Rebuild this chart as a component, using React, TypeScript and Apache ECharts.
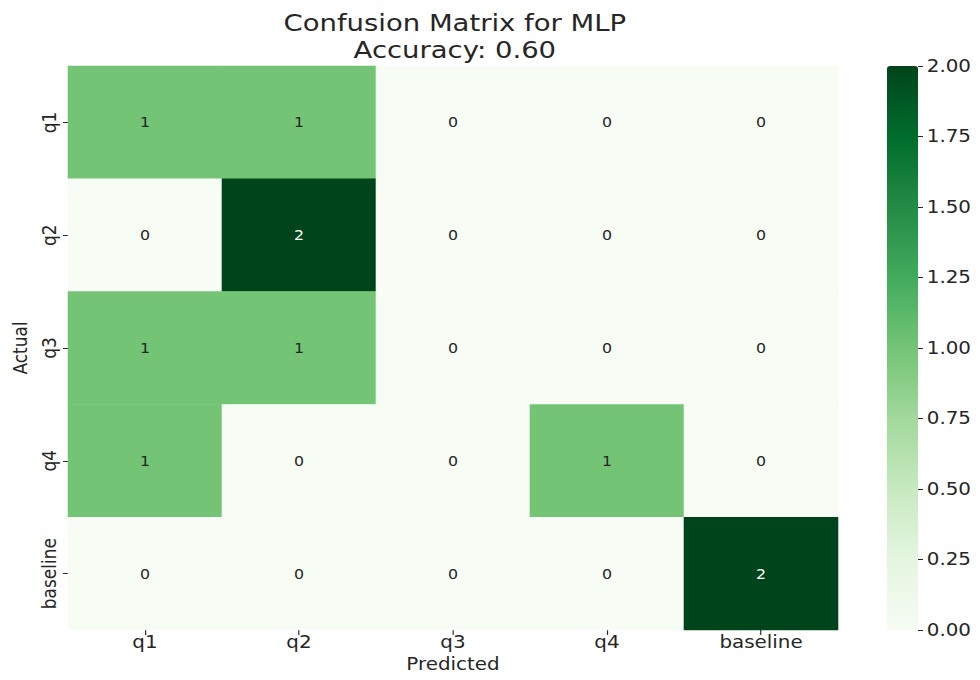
import React, { useEffect, useRef } from "react";
import * as echarts from "echarts";

const predictedLabels = ["q1", "q2", "q3", "q4", "baseline"];
const actualLabels = ["q1", "q2", "q3", "q4", "baseline"];

// rows = actual, columns = predicted
const rowQ1 = [1, 1, 0, 0, 0];
const rowQ2 = [0, 2, 0, 0, 0];
const rowQ3 = [1, 1, 0, 0, 0];
const rowQ4 = [1, 0, 0, 1, 0];
const rowBaseline = [0, 0, 0, 0, 2];
const matrixRows = [rowQ1, rowQ2, rowQ3, rowQ4, rowBaseline];

const colorbarTicks = [0, 0.25, 0.5, 0.75, 1.0, 1.25, 1.5, 1.75, 2.0];

const greens = [
  "#f7fcf5", "#e5f5e0", "#c7e9c0", "#a1d99b", "#74c476",
  "#41ab5d", "#238b45", "#006d2c", "#00441b",
];

const FONT = "'DejaVu Sans', sans-serif";
const TEXT = "#262626";

// The figure is laid out on a narrower canvas and widened horizontally.
const OUT_W = 980;
const OUT_H = 680;
const CANVAS_W = 838;
const SX = OUT_W / CANVAS_W;
const px = (x: number) => x / SX;

export default function App() {
  const ref = useRef<HTMLDivElement>(null);

  useEffect(() => {
    if (!ref.current) return;
    const chart = echarts.init(ref.current, null, { renderer: "svg" });

    const data: any[] = [];
    matrixRows.forEach((row, r) => {
      row.forEach((v, c) => {
        data.push({
          value: [c, r, v],
          label: { color: v > 1.5 ? "#ffffff" : TEXT },
        });
      });
    });

    const plotLeft = px(68);
    const plotRight = px(838);
    const barLeft = px(887);
    const barRight = px(918);

    chart.setOption({
      animation: false,
      backgroundColor: "#ffffff",
      title: {
        text: "Confusion Matrix for MLP\nAccuracy: 0.60",
        left: px(449),
        top: 4,
        textAlign: "center",
        textStyle: {
          fontFamily: FONT,
          fontSize: 23.5,
          fontWeight: "normal",
          color: TEXT,
          lineHeight: 27,
        },
      },
      grid: [
        { left: plotLeft, right: CANVAS_W - plotRight, top: 66, bottom: 50 },
        { left: barLeft, right: CANVAS_W - barRight, top: 66, bottom: 50 },
      ],
      xAxis: [
        {
          type: "category",
          gridIndex: 0,
          data: predictedLabels,
          position: "bottom",
          name: "Predicted",
          nameLocation: "middle",
          nameGap: 26,
          nameTextStyle: { fontFamily: FONT, fontSize: 17, color: TEXT },
          axisLine: { show: false },
          axisTick: { show: true, alignWithLabel: true, length: 5, lineStyle: { color: TEXT } },
          axisLabel: { fontFamily: FONT, fontSize: 17, color: TEXT, margin: 4 },
          splitLine: { show: false },
        },
        {
          type: "value",
          gridIndex: 1,
          show: false,
          min: 0,
          max: 1,
        },
      ],
      yAxis: [
        {
          type: "category",
          gridIndex: 0,
          data: actualLabels,
          inverse: true,
          name: "Actual",
          nameLocation: "middle",
          nameGap: 31,
          nameRotate: 90,
          nameTextStyle: { fontFamily: FONT, fontSize: 17, color: TEXT },
          axisLine: { show: false },
          axisTick: { show: true, alignWithLabel: true, length: 4.3, lineStyle: { color: TEXT } },
          axisLabel: { fontFamily: FONT, fontSize: 17, color: TEXT, rotate: 90, margin: 7.5 },
          splitLine: { show: false },
        },
        {
          type: "value",
          gridIndex: 1,
          position: "right",
          min: 0,
          max: 2,
          interval: 0.25,
          axisLine: { show: false, onZero: false },
          axisTick: { show: true, length: 4.3, lineStyle: { color: TEXT } },
          axisLabel: {
            fontFamily: FONT,
            fontSize: 17,
            color: TEXT,
            margin: 7.5,
            formatter: (v: number) => v.toFixed(2),
          },
          splitLine: { show: false },
        },
      ],
      visualMap: {
        type: "continuous",
        min: colorbarTicks[0],
        max: colorbarTicks[colorbarTicks.length - 1],
        seriesIndex: 0,
        orient: "vertical",
        left: barLeft,
        top: 66,
        itemWidth: barRight - barLeft,
        itemHeight: 564,
        padding: 0,
        text: ["", ""],
        showLabel: false,
        calculable: false,
        hoverLink: false,
        realtime: false,
        inRange: { color: greens },
      },
      series: [
        {
          type: "heatmap",
          xAxisIndex: 0,
          yAxisIndex: 0,
          data,
          label: {
            show: true,
            fontFamily: FONT,
            fontSize: 13.5,
            formatter: (p: any) => String(p.value[2]),
          },
          itemStyle: { borderWidth: 0 },
          emphasis: { disabled: true },
        },
        {
          type: "scatter",
          xAxisIndex: 1,
          yAxisIndex: 1,
          data: [],
          silent: true,
        },
      ],
    });

    return () => chart.dispose();
  }, []);

  return (
    <div style={{ width: OUT_W, height: OUT_H, margin: -8, overflow: "hidden", background: "#fff" }}>
      <div
        ref={ref}
        style={{
          width: CANVAS_W,
          height: OUT_H,
          transform: `scaleX(${SX})`,
          transformOrigin: "0 0",
        }}
      />
    </div>
  );
}
